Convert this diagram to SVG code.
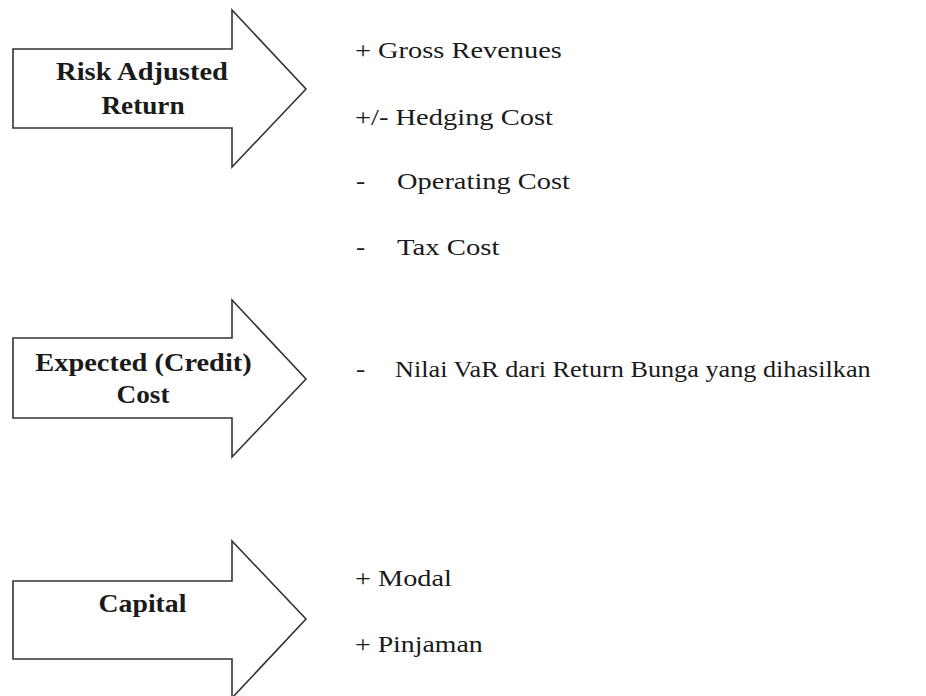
<svg xmlns="http://www.w3.org/2000/svg" width="926" height="696" viewBox="0 0 926 696">
<style>
.arrow{fill:#fff;stroke:#333;stroke-width:1.6;stroke-linejoin:miter}
.lbl{font-family:"Liberation Serif","Times New Roman",serif;font-weight:bold;font-size:25px;fill:#1a1a1a;text-anchor:middle}
.item{font-family:"Liberation Serif","Times New Roman",serif;font-size:23px;fill:#1a1a1a}
</style>
<rect width="926" height="696" fill="#fff"/>
<g id="node-risk-adjusted-return">
<polygon class="arrow" points="13,49 232,49 232,10 306,89 232,167 232,128 13,128"/>
<text class="lbl" transform="translate(142,80) scale(1.14,1)">Risk Adjusted</text>
<text class="lbl" transform="translate(143,114) scale(1.09,1)">Return</text>
</g>
<g id="node-expected-credit-cost">
<polygon class="arrow" points="13,338 232,338 232,300 306,379 232,457 232,418 13,418"/>
<text class="lbl" transform="translate(143.5,371) scale(1.137,1)">Expected (Credit)</text>
<text class="lbl" transform="translate(143,403) scale(1.09,1)">Cost</text>
</g>
<g id="node-capital">
<polygon class="arrow" points="13,581 232,581 232,541 306,619 232,698 232,659 13,659"/>
<text class="lbl" transform="translate(142.5,612) scale(1.11,1)">Capital</text>
</g>
<g id="items-return">
<text class="item" transform="translate(355,58) scale(1.235,1)">+ Gross Revenues</text>
<text class="item" transform="translate(355,125) scale(1.238,1)">+/- Hedging Cost</text>
<text class="item" transform="translate(356,189) scale(1.2,1)">-</text>
<text class="item" transform="translate(397,189) scale(1.237,1)">Operating Cost</text>
<text class="item" transform="translate(356,255) scale(1.2,1)">-</text>
<text class="item" transform="translate(397,255) scale(1.25,1)">Tax Cost</text>
</g>
<g id="items-cost">
<text class="item" transform="translate(356,377) scale(1.2,1)">-</text>
<text class="item" transform="translate(395,377) scale(1.14,1)">Nilai VaR dari Return Bunga yang dihasilkan</text>
</g>
<g id="items-capital">
<text class="item" transform="translate(355,586) scale(1.23,1)">+ Modal</text>
<text class="item" transform="translate(355,652) scale(1.21,1)">+ Pinjaman</text>
</g>
<g id="connectors"></g>
</svg>
